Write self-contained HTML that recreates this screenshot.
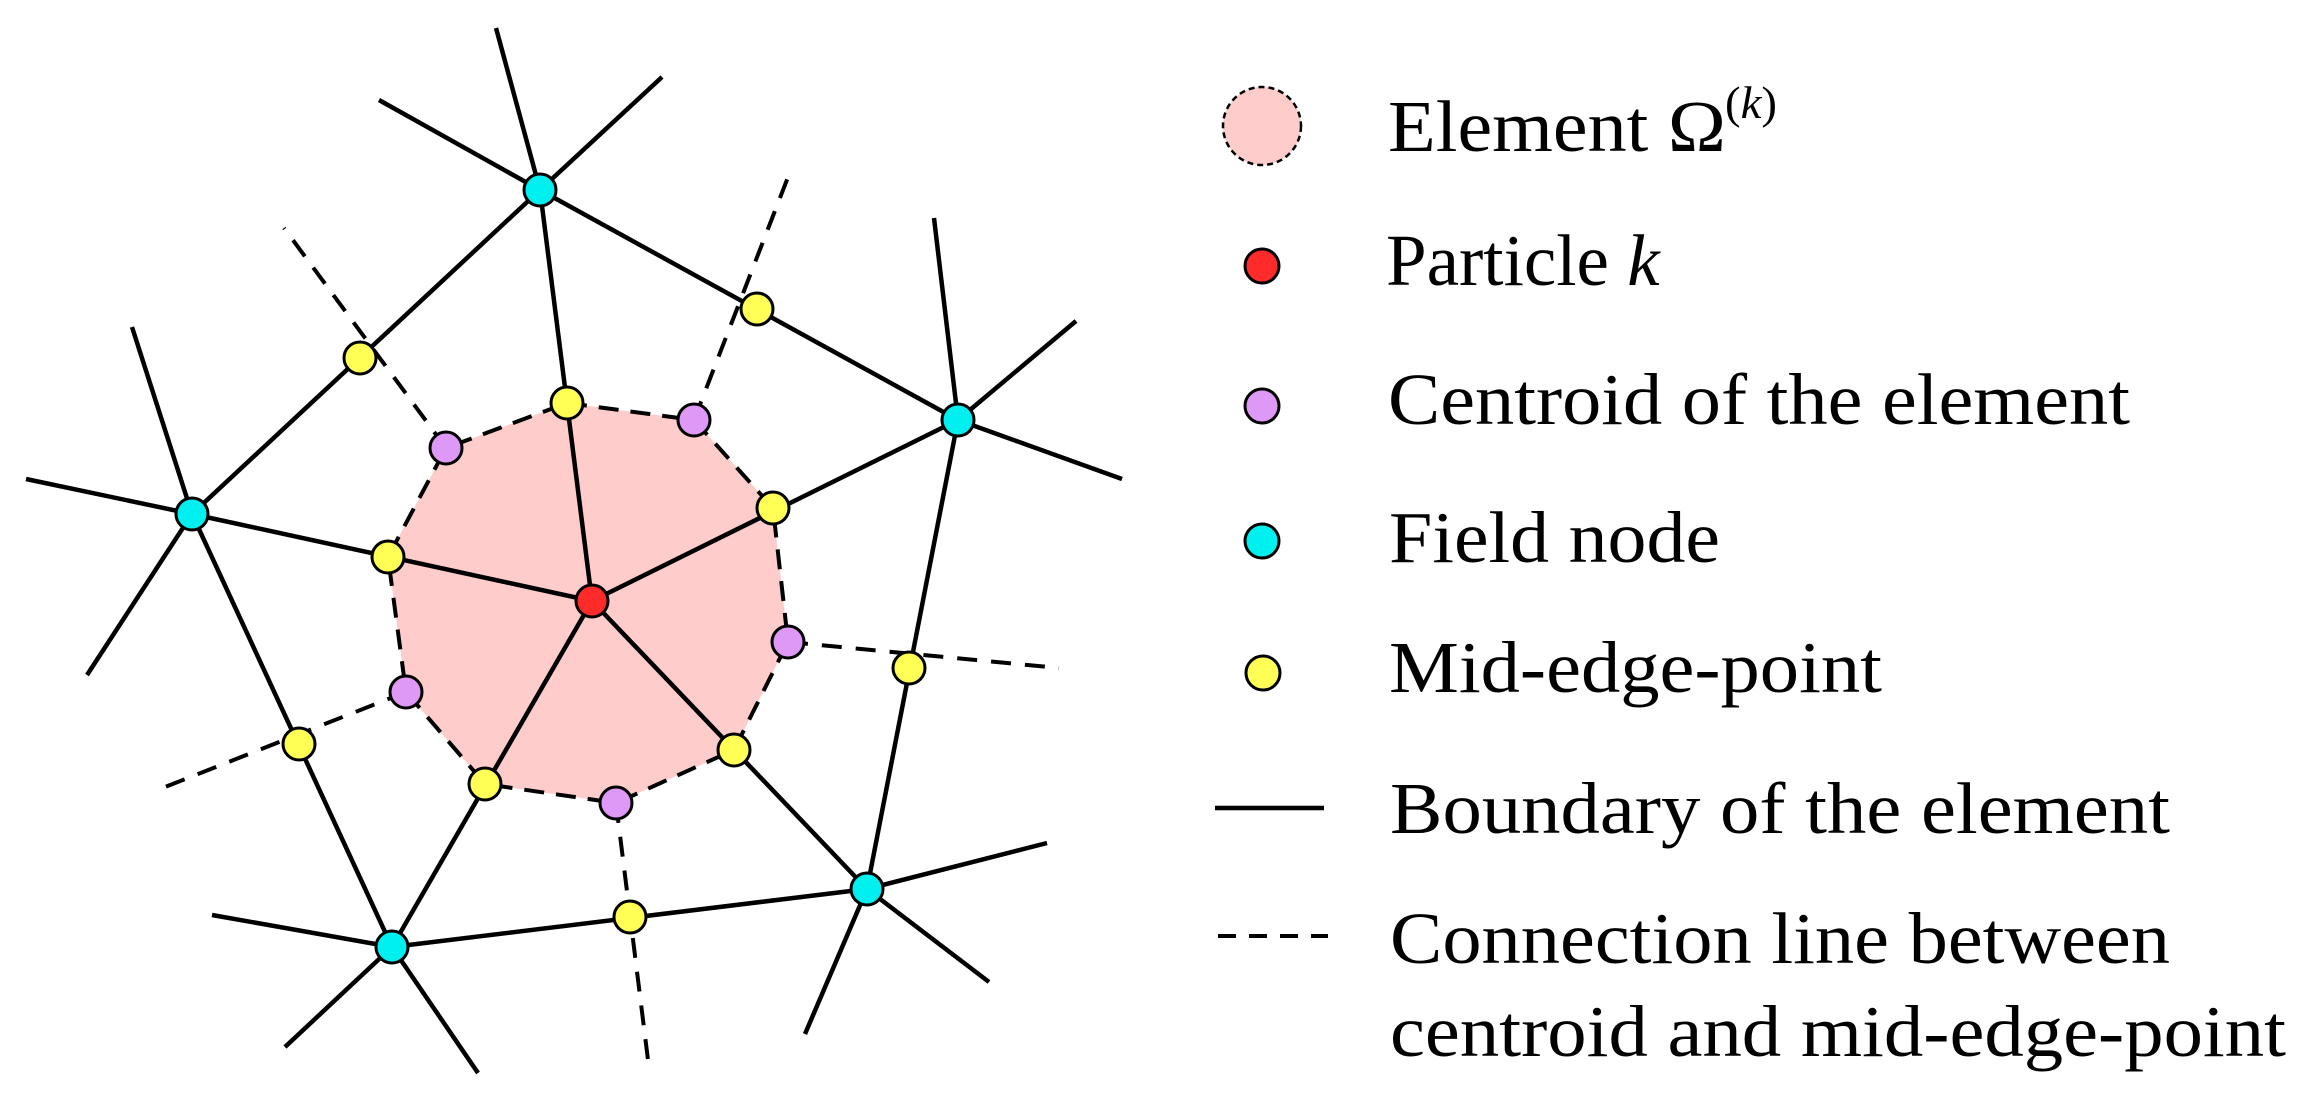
<!DOCTYPE html>
<html><head><meta charset="utf-8"><style>
html,body{margin:0;padding:0;background:#fff;}
svg{display:block;}
text{font-family:"Liberation Serif",serif;font-size:73px;fill:#000;}
</style></head><body>
<svg width="2318" height="1102" viewBox="0 0 2318 1102" xmlns="http://www.w3.org/2000/svg">
<polygon points="567,403 694,420 773,508 788,642 734,750 616,803 485,784 406,692 388,557 446,448" fill="#ffcccc" stroke="#000" stroke-width="4" stroke-dasharray="20,12"/>
<g stroke="#000" stroke-width="4" fill="none" stroke-dasharray="20,14">
<line x1="446" y1="448" x2="284" y2="228"/>
<line x1="694" y1="420" x2="790" y2="172"/>
<line x1="788" y1="642" x2="1059" y2="668"/>
<line x1="406" y1="692" x2="155" y2="791"/>
<line x1="616" y1="803" x2="649" y2="1068"/>
</g>
<g stroke="#000" stroke-width="4.5" fill="none">
<line x1="540" y1="190" x2="496" y2="28"/>
<line x1="540" y1="190" x2="379" y2="100"/>
<line x1="540" y1="190" x2="662" y2="77"/>
<line x1="192" y1="514" x2="132" y2="327"/>
<line x1="192" y1="514" x2="26" y2="479"/>
<line x1="192" y1="514" x2="87" y2="675"/>
<line x1="958" y1="420" x2="934" y2="218"/>
<line x1="958" y1="420" x2="1076" y2="321"/>
<line x1="958" y1="420" x2="1122" y2="479"/>
<line x1="392" y1="947" x2="212" y2="915"/>
<line x1="392" y1="947" x2="285" y2="1047"/>
<line x1="392" y1="947" x2="478" y2="1073"/>
<line x1="867" y1="889" x2="1047" y2="843"/>
<line x1="867" y1="889" x2="989" y2="982"/>
<line x1="867" y1="889" x2="805" y2="1034"/>
<line x1="540" y1="190" x2="192" y2="514"/>
<line x1="540" y1="190" x2="958" y2="420"/>
<line x1="192" y1="514" x2="392" y2="947"/>
<line x1="392" y1="947" x2="867" y2="889"/>
<line x1="958" y1="420" x2="867" y2="889"/>
<line x1="592" y1="601" x2="540" y2="190"/>
<line x1="592" y1="601" x2="958" y2="420"/>
<line x1="592" y1="601" x2="192" y2="514"/>
<line x1="592" y1="601" x2="392" y2="947"/>
<line x1="592" y1="601" x2="867" y2="889"/>
</g>
<g stroke="#000" stroke-width="3">
<g fill="#00f0f0">
<circle cx="540" cy="190" r="16"/><circle cx="192" cy="514" r="16"/><circle cx="958" cy="420" r="16"/><circle cx="392" cy="947" r="16"/><circle cx="867" cy="889" r="16"/>
</g>
<g fill="#ffff55">
<circle cx="360" cy="358" r="16"/><circle cx="757" cy="309" r="16"/><circle cx="567" cy="403" r="16"/><circle cx="773" cy="508" r="16"/><circle cx="388" cy="557" r="16"/><circle cx="909" cy="668" r="16"/><circle cx="299" cy="744" r="16"/><circle cx="734" cy="750" r="16"/><circle cx="485" cy="784" r="16"/><circle cx="630" cy="917" r="16"/>
</g>
<g fill="#dd99f5">
<circle cx="446" cy="448" r="16"/><circle cx="694" cy="420" r="16"/><circle cx="788" cy="642" r="16"/><circle cx="406" cy="692" r="16"/><circle cx="616" cy="803" r="16"/>
</g>
<circle cx="592" cy="601" r="16" fill="#ff2b2b"/>
</g>
<!-- legend -->
<circle cx="1262" cy="126" r="39" fill="#ffcccc" stroke="#000" stroke-width="2.5" stroke-dasharray="6,4"/>
<g stroke="#000" stroke-width="3">
<circle cx="1262" cy="266" r="17" fill="#ff2b2b"/>
<circle cx="1262" cy="406" r="17" fill="#dd99f5"/>
<circle cx="1262" cy="541" r="17" fill="#00f0f0"/>
<circle cx="1263" cy="673" r="17" fill="#ffff55"/>
</g>
<line x1="1215" y1="808" x2="1324" y2="808" stroke="#000" stroke-width="4.5"/>
<line x1="1218" y1="936" x2="1328" y2="936" stroke="#000" stroke-width="4" stroke-dasharray="18,13"/>
<text x="1388" y="151" textLength="338" lengthAdjust="spacingAndGlyphs">Element Ω</text>
<text x="1725" y="118" style="font-size:46px" textLength="52" lengthAdjust="spacingAndGlyphs">(<tspan font-style="italic">k</tspan>)</text>
<text x="1386" y="285">Particle <tspan font-style="italic">k</tspan></text>
<text x="1388" y="424" textLength="742" lengthAdjust="spacingAndGlyphs">Centroid of the element</text>
<text x="1389" y="562" textLength="331" lengthAdjust="spacingAndGlyphs">Field node</text>
<text x="1389" y="692" textLength="493" lengthAdjust="spacingAndGlyphs">Mid-edge-point</text>
<text x="1390" y="833" textLength="780" lengthAdjust="spacingAndGlyphs">Boundary of the element</text>
<text x="1390" y="963" textLength="780" lengthAdjust="spacingAndGlyphs">Connection line between</text>
<text x="1390" y="1056" textLength="896" lengthAdjust="spacingAndGlyphs">centroid and mid-edge-point</text>
</svg>
</body></html>
